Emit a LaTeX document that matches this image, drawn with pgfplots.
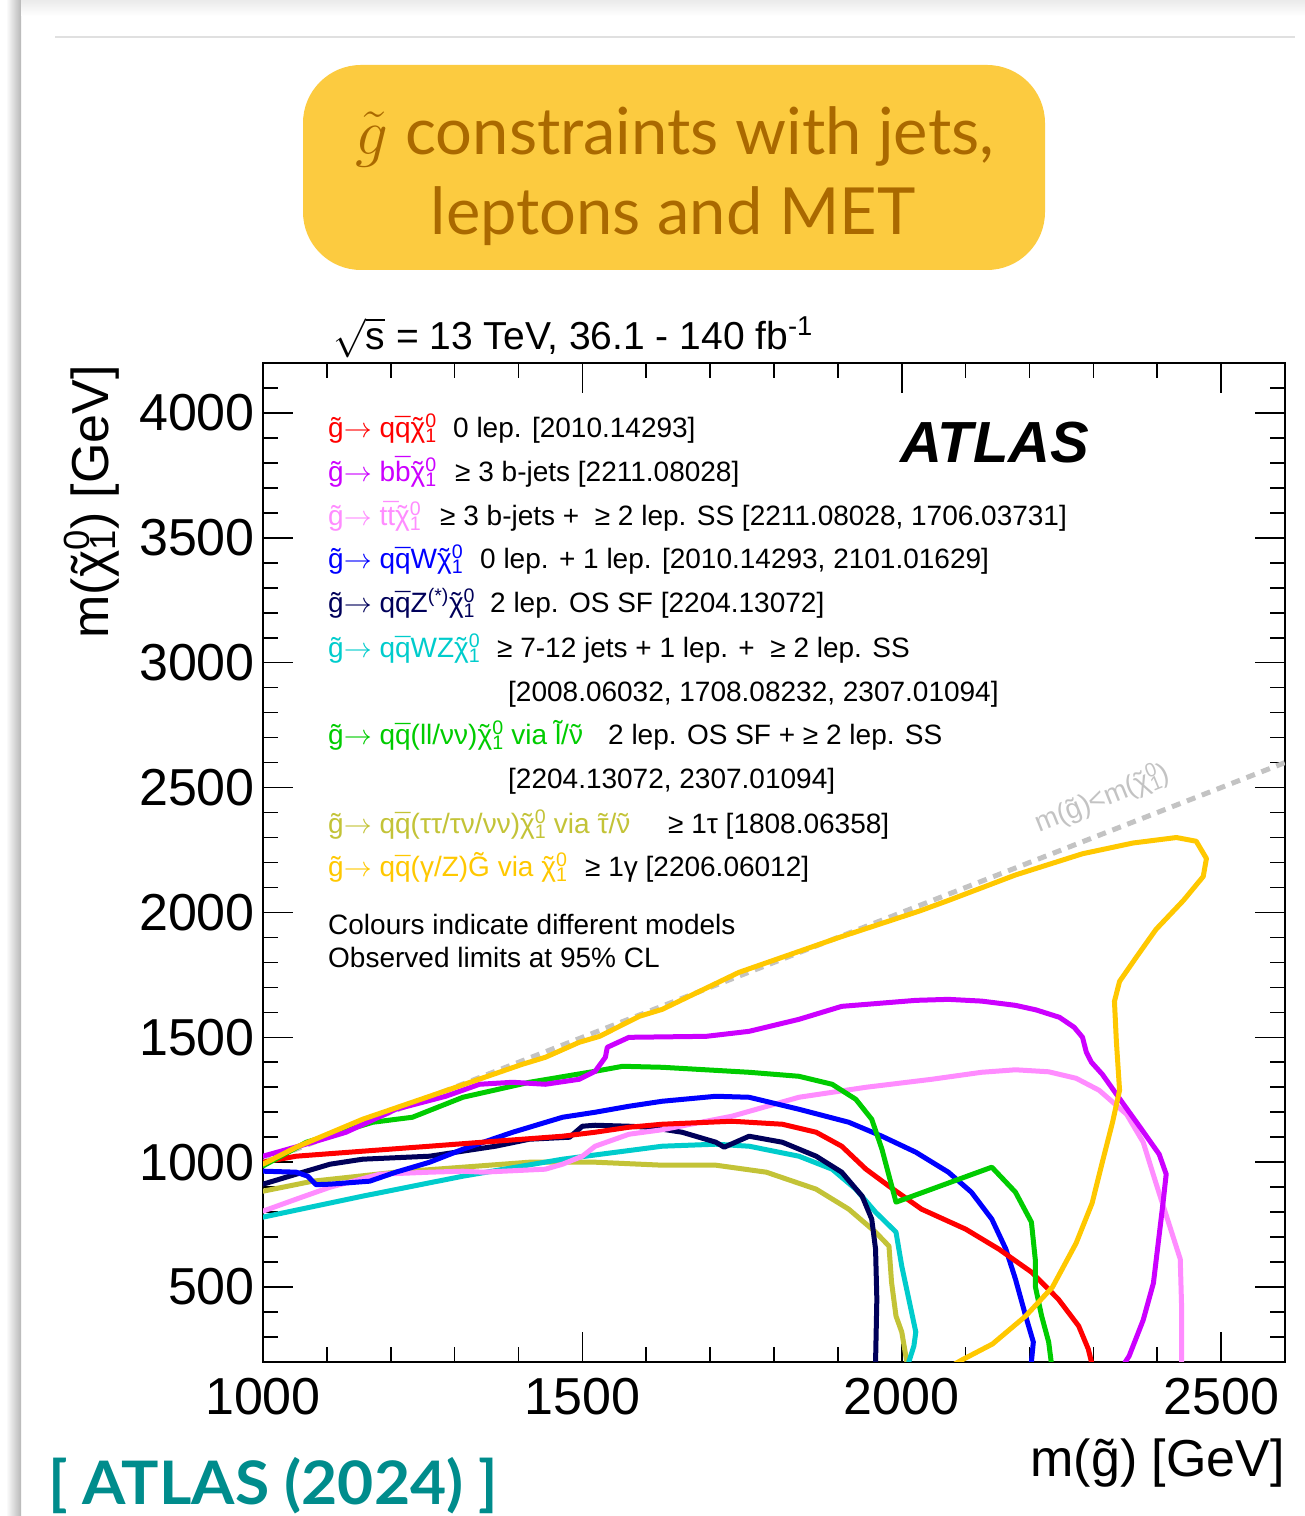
\RequirePackage{fix-cm}
\documentclass[border=0pt]{standalone}
\usepackage{pgfplots}
\pgfplotsset{compat=1.18}
\usepackage{fontspec}
\setmainfont{Liberation Sans}
\newfontfamily\latofont{Lato}
\definecolor{cRed}{RGB}{255,0,0}
\definecolor{cPurple}{RGB}{204,0,255}
\definecolor{cPink}{RGB}{255,140,255}
\definecolor{cBlue}{RGB}{0,0,255}
\definecolor{cNavy}{RGB}{0,0,90}
\definecolor{cCyan}{RGB}{0,204,204}
\definecolor{cGreen}{RGB}{0,204,0}
\definecolor{cOlive}{RGB}{195,195,55}
\definecolor{cGold}{RGB}{255,200,0}
\definecolor{cDash}{RGB}{195,195,195}
\definecolor{boxY}{RGB}{252,203,64}
\definecolor{boxT}{RGB}{170,105,0}
\definecolor{cTeal}{RGB}{0,140,140}
\newcommand{\tld}[1]{{\accent"02DC #1}}
\newcommand{\br}[1]{{\accent"00AF #1}}
\newcommand{\ninoi}{\tld{χ}\rlap{\textsuperscript{0}}\textsubscript{1}}
\newcommand{\ar}{$\rightarrow$}
\begin{document}
\begin{tikzpicture}[x=1pt,y=1pt,
  leg/.style={anchor=base west, inner sep=0pt, font=\fontsize{28}{32}\selectfont}]
\useasboundingbox (0,0) rectangle (1305,1516);
\fill[white] (0,0) rectangle (1305,1516);
\shade[left color=white, right color=black!28] (6,0) rectangle (21,1516);
\shade[bottom color=white, top color=black!8] (21,1500) rectangle (1305,1516);
\draw[black!12, line width=1.5pt] (55,1479) -- (1295,1479);
% title box
\fill[boxY, rounded corners=58pt] (303,1246) rectangle (1045,1451);
\node[anchor=base, inner sep=0pt, text=boxT, font=\latofont\fontsize{65}{70}\selectfont] at (675,1361) {$\tilde{g}$ constraints with jets,};
\node[anchor=base, inner sep=0pt, text=boxT, font=\latofont\fontsize{65}{70}\selectfont] at (673,1281) {leptons and MET};
\node[anchor=base west, inner sep=0pt, text=cTeal, font=\latofont\bfseries\fontsize{60}{62}\selectfont, xscale=1.04] at (48,12) {[ ATLAS (2024) ]};

\begin{axis}[
  at={(263pt,154pt)}, anchor=south west,
  scale only axis, width=1022pt, height=999pt,
  xmin=1000, xmax=2600, ymin=200, ymax=4200,
  xtick={1000,1500,2000,2500},
  ytick={500,1000,1500,2000,2500,3000,3500,4000},
  minor xtick={1000,1100,...,2600},
  minor ytick={200,300,...,4200},
  tick align=inside,
  major tick length=30pt, minor tick length=15pt,
  every tick/.style={black, line width=1.6pt},
  axis line style={black, line width=2pt},
  /pgf/number format/1000 sep={},
  /pgf/number format/assume math mode=true,
  tick label style={font=\fontsize{52}{52}\selectfont, inner sep=0pt},
  xticklabel style={yshift=-16pt},
  yticklabel style={xshift=-8pt},
  clip=true,
  every axis plot/.append style={line width=5pt, line join=round, line cap=round},
]
\addplot[cDash, dash pattern=on 9pt off 7pt, line cap=butt] coordinates {(1000,1000) (2600,2600)};
\addplot[cOlive] coordinates {(1000,884)(1078,924)(1208,960)(1313,980)(1417,1000)(1520,1000)(1625,988)(1709,988)(1788,960)(1866,892)(1917,812)(1959,720)(1980,664)(1984,520)(1991,384)(2000,320)(2008,200)(2010,150)};
\addplot[cCyan] coordinates {(1000,780)(1156,864)(1313,944)(1469,1012)(1625,1064)(1709,1072)(1761,1064)(1839,1024)(1891,972)(1928,892)(1959,800)(1991,720)(2000,584)(2011,452)(2022,320)(2019,264)(2011,200)(2008,150)};
\addplot[cNavy] coordinates {(1000,912)(1052,952)(1105,992)(1156,1012)(1261,1024)(1302,1040)(1364,1064)(1417,1092)(1480,1100)(1500,1144)(1520,1148)(1573,1144)(1605,1140)(1656,1120)(1709,1080)(1722,1060)(1761,1104)(1813,1080)(1866,1024)(1906,960)(1938,864)(1953,772)(1959,652)(1961,452)(1959,200)(1959,150)};
\addplot[cPink] coordinates {(1000,804)(1052,852)(1105,900)(1183,952)(1261,960)(1313,964)(1344,960)(1442,972)(1469,992)(1500,1024)(1520,1064)(1573,1112)(1625,1130)(1734,1184)(1839,1260)(1944,1300)(2047,1332)(2125,1360)(2178,1370)(2230,1362)(2273,1336)(2309,1288)(2352,1192)(2378,1080)(2398,916)(2414,788)(2436,612)(2438,432)(2438,200)(2438,150)};
\addplot[cBlue] coordinates {(1000,964)(1052,960)(1070,944)(1083,910)(1105,912)(1167,924)(1208,960)(1261,1000)(1313,1052)(1391,1120)(1469,1180)(1520,1200)(1573,1224)(1625,1244)(1709,1264)(1761,1260)(1839,1212)(1917,1160)(1969,1104)(2022,1040)(2073,960)(2109,880)(2141,772)(2163,652)(2178,532)(2194,384)(2206,280)(2203,200)(2203,150)};
\addplot[cRed] coordinates {(1000,1000)(1052,1024)(1156,1044)(1261,1064)(1364,1084)(1469,1104)(1520,1120)(1573,1140)(1625,1152)(1734,1164)(1813,1152)(1866,1120)(1906,1064)(1944,972)(1980,904)(2031,812)(2100,732)(2152,652)(2203,560)(2245,452)(2277,344)(2292,252)(2297,200)(2298,150)};
\addplot[cGreen] coordinates {(1000,985)(1068,1080)(1172,1160)(1234,1180)(1313,1260)(1417,1320)(1520,1364)(1563,1384)(1625,1380)(1761,1360)(1839,1344)(1891,1312)(1928,1252)(1953,1172)(1969,1052)(1991,840)(2141,980)(2178,880)(2203,760)(2209,612)(2209,504)(2219,384)(2230,280)(2234,200)(2235,150)};
\addplot[cPurple] coordinates {(1000,1024)(1078,1080)(1130,1120)(1208,1212)(1286,1264)(1339,1312)(1391,1320)(1442,1312)(1495,1332)(1520,1364)(1536,1420)(1539,1460)(1573,1500)(1694,1504)(1761,1524)(1839,1572)(1906,1624)(2022,1648)(2073,1652)(2125,1645)(2178,1628)(2210,1610)(2247,1580)(2270,1540)(2283,1500)(2289,1440)(2297,1400)(2314,1352)(2345,1240)(2372,1144)(2403,1032)(2414,952)(2409,836)(2403,708)(2394,516)(2378,368)(2356,224)(2350,200)(2345,150)};
\addplot[cGold] coordinates {(1000,992)(1052,1060)(1156,1172)(1261,1264)(1406,1392)(1442,1420)(1495,1480)(1527,1504)(1589,1584)(1625,1612)(1745,1760)(1902,1900)(2027,2005)(2073,2048)(2178,2150)(2283,2235)(2362,2278)(2430,2300)(2461,2285)(2477,2216)(2472,2144)(2441,2048)(2398,1932)(2367,1820)(2341,1724)(2333,1644)(2336,1484)(2341,1288)(2330,1160)(2314,1000)(2298,836)(2273,676)(2236,500)(2194,384)(2142,272)(2094,208)(2075,180)};
\end{axis}

% header texts
\node[anchor=base west, inner sep=0pt, font=\fontsize{39}{40}\selectfont] at (333,1166) {$\sqrt{\mbox{s}}$ = 13 TeV, 36.1 - 140 fb\textsuperscript{-1}};
\node[anchor=base west, inner sep=0pt, font=\bfseries\itshape\fontsize{58}{60}\selectfont] at (900,1053) {ATLAS};
\node[rotate=90, anchor=base east, inner sep=0pt, font=\fontsize{52}{52}\selectfont] at (108,1151) {m(\ninoi) [GeV]};
\node[anchor=base east, inner sep=0pt, font=\fontsize{52}{52}\selectfont] at (1285,39) {m(\tld{g}) [GeV]};
\node[rotate=22, text=cDash, inner sep=0pt, font=\fontsize{28}{30}\selectfont] at (1102,718) {m(\tld{g})<m(\ninoi)};

% legend
\node[leg, text=cRed] at (328,1078) {\tld{g}\ar\ q\br{q}\ninoi};
\node[leg] at (453,1078) {0 lep. [2010.14293]};
\node[leg, text=cPurple] at (328,1034) {\tld{g}\ar\ b\br{b}\ninoi};
\node[leg] at (455,1034) {≥ 3 b-jets [2211.08028]};
\node[leg, text=cPink] at (328,990) {\tld{g}\ar\ t\br{t}\ninoi};
\node[leg] at (440,990) {≥ 3 b-jets +\ \ ≥ 2 lep. SS [2211.08028, 1706.03731]};
\node[leg, text=cBlue] at (328,947) {\tld{g}\ar\ q\br{q}W\ninoi};
\node[leg] at (480,947) {0 lep. + 1 lep. [2010.14293, 2101.01629]};
\node[leg, text=cNavy] at (328,903) {\tld{g}\ar\ q\br{q}Z\textsuperscript{(*)}\ninoi};
\node[leg] at (490,903) {2 lep. OS SF [2204.13072]};
\node[leg, text=cCyan] at (328,858) {\tld{g}\ar\ q\br{q}WZ\ninoi};
\node[leg] at (497,858) {≥ 7-12 jets + 1 lep. +\ \ ≥ 2 lep. SS};
\node[leg] at (508,814) {[2008.06032, 1708.08232, 2307.01094]};
\node[leg, text=cGreen] at (328,771) {\tld{g}\ar\ q\br{q}(ll/νν)\ninoi\ via \tld{l}/\tld{ν}};
\node[leg] at (608,771) {2 lep. OS SF + ≥ 2 lep. SS};
\node[leg] at (508,727) {[2204.13072, 2307.01094]};
\node[leg, text=cOlive] at (328,682) {\tld{g}\ar\ q\br{q}(ττ/τν/νν)\ninoi\ via \tld{τ}/\tld{ν}};
\node[leg] at (668,682) {≥ 1τ [1808.06358]};
\node[leg, text=cGold] at (328,639) {\tld{g}\ar\ q\br{q}(γ/Z)\tld{G} via \ninoi};
\node[leg] at (585,639) {≥ 1γ [2206.06012]};
\node[leg] at (328,581) {Colours indicate different models};
\node[leg] at (328,548) {Observed limits at 95\% CL};
\end{tikzpicture}
\end{document}
